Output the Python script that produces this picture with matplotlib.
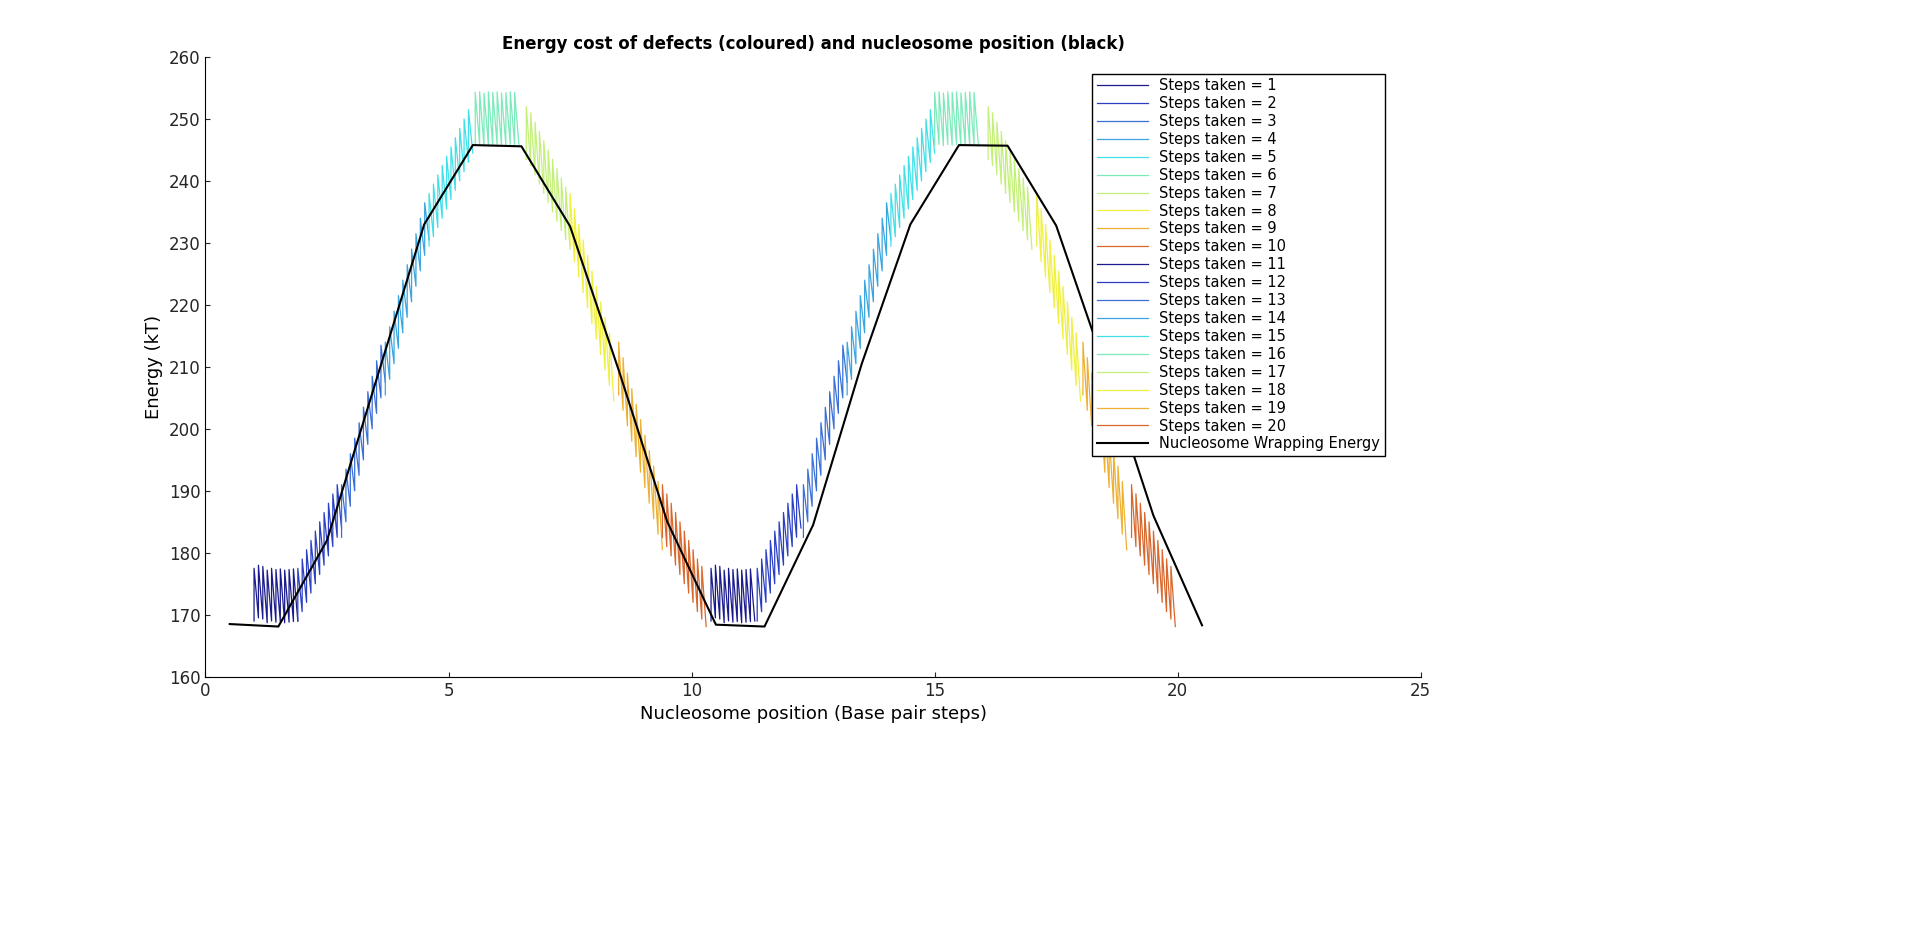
import numpy as np
import matplotlib.pyplot as plt

# Nucleosome wrapping energy (black line)
nuc_x = [0.5, 1.5, 2.5, 3.5, 4.5, 5.5, 6.5, 7.5, 8.5, 9.5, 10.5,
         11.5, 12.5, 13.5, 14.5, 15.5, 16.5, 17.5, 18.5, 19.5, 20.5]
nuc_e = [168.5, 168.1, 182.0, 207.5, 233.0, 245.8, 245.6, 232.7, 209.5, 185.0, 168.4,
         168.1, 184.5, 210.5, 233.0, 245.8, 245.7, 232.8, 210.0, 186.0, 168.3]

# Defect energy: start position of each "steps taken" block and its tooth peaks
block_start = [1.0, 1.9, 2.8, 3.7, 4.6, 5.55, 6.6, 7.5, 8.5, 9.4,
               10.4, 11.35, 12.3, 13.2, 14.1, 15.0, 16.1, 17.1, 18.05, 19.05]
tops_first = [
    [177.5, 178.0, 177.8, 177.2, 177.5, 177.3, 177.4, 177.2, 177.3, 177.4],
    [177.5, 179.0, 180.5, 182.0, 183.5, 185.0, 186.5, 188.0, 189.5, 191.0],
    [191.0, 193.5, 196.0, 198.5, 201.0, 203.5, 206.0, 208.5, 211.0, 213.5],
    [214.0, 216.5, 219.0, 221.5, 224.0, 226.5, 229.0, 231.5, 234.0, 236.5],
    [238.0, 239.5, 241.0, 242.5, 244.0, 245.5, 247.0, 248.5, 250.0, 251.5],
    [254.3, 254.4, 254.2, 254.4, 254.3, 254.4, 254.2, 254.3, 254.4, 254.3],
    [252.0, 251.0, 249.5, 248.0, 246.5, 245.0, 243.5, 242.0, 240.5, 239.0],
    [238.0, 235.5, 233.0, 230.5, 228.0, 225.5, 223.0, 220.5, 218.0, 215.5],
    [214.0, 211.5, 209.0, 206.5, 204.0, 201.5, 199.0, 196.5, 194.0, 191.5],
    [191.0, 189.5, 188.0, 186.5, 185.0, 183.5, 182.0, 180.5, 179.0, 177.8],
]
tops = tops_first + tops_first
depth = 8.5
block_width = 0.9

colors = ['#1a1a8c', '#2a3fc4', '#3a6fd6', '#3aa5e0', '#40e0e8',
          '#7ceaba', '#c4f07a', '#f0f040', '#eeb030', '#d9662a']

fig = plt.figure(figsize=(19.2, 9.36), dpi=100)
ax = fig.add_axes([0.107, 0.277, 0.633, 0.662])

for i, (x0, tp) in enumerate(zip(block_start, tops)):
    n = len(tp)
    dx = block_width / n
    xs, ys = [], []
    for j, t in enumerate(tp):
        xj = x0 + j * dx
        xs += [xj, xj]
        ys += [t - depth, t]
    xs.append(x0 + n * dx)
    ys.append(tp[-1] - depth + (tp[-1] - tp[-2]))
    ax.plot(xs, ys, color=colors[i % 10], lw=0.9,
            label=f"Steps taken = {i + 1}")

ax.plot(nuc_x, nuc_e, color='black', lw=1.5, label='Nucleosome Wrapping Energy')

ax.set_xlim(0, 25)
ax.set_ylim(160, 260)
ax.set_xticks([0, 5, 10, 15, 20, 25])
ax.set_yticks(range(160, 261, 10))
ax.tick_params(direction='in', labelsize=12, colors='#262626')
ax.spines['top'].set_visible(False)
ax.spines['right'].set_visible(False)
ax.set_xlabel('Nucleosome position (Base pair steps)', fontsize=13)
ax.set_ylabel('Energy (kT)', fontsize=13)
ax.set_title('Energy cost of defects (coloured) and nucleosome position (black)',
             fontsize=12, fontweight='bold')

leg = ax.legend(loc='upper right', bbox_to_anchor=(0.725, 0.929),
                bbox_transform=fig.transFigure, fontsize=10.5, fancybox=False,
                edgecolor='black', framealpha=1, borderpad=0.3,
                labelspacing=0.2, handlelength=3.5)

fig.savefig('out.png', dpi=100)
